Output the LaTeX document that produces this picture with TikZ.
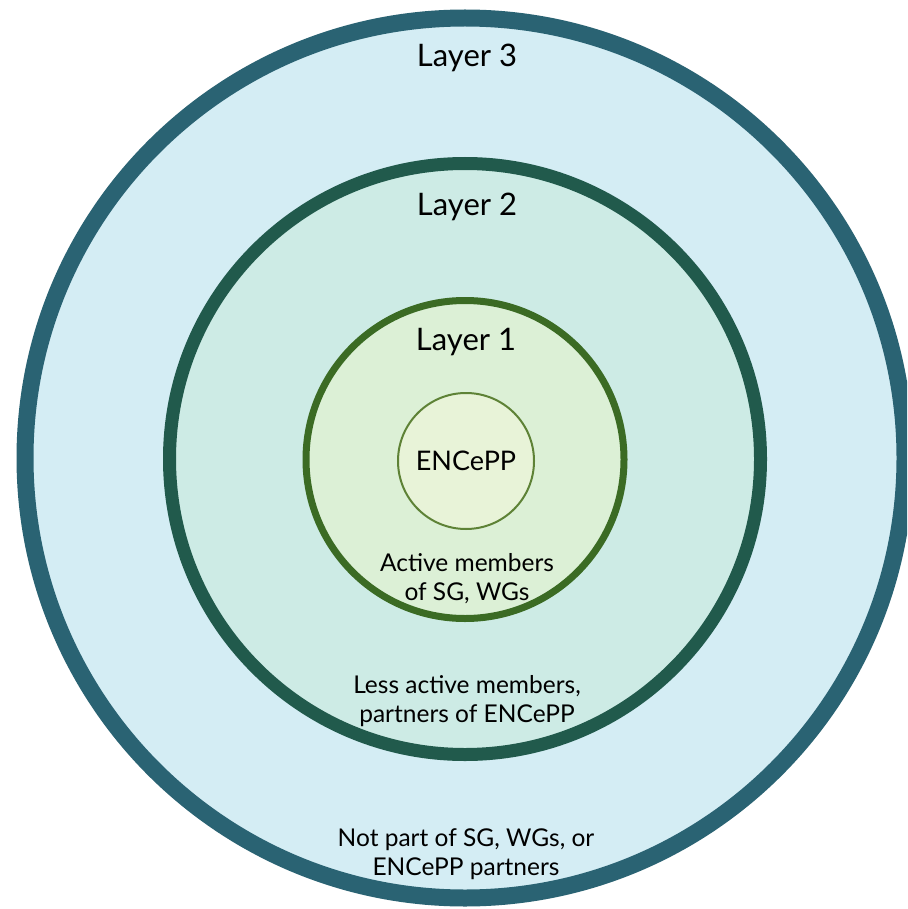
\documentclass[tikz,border=0pt]{standalone}
\usepackage{fontspec}
\setmainfont{Lato}
\definecolor{outerfill}{HTML}{D4EDF4}
\definecolor{outerline}{HTML}{2A6373}
\definecolor{midfill}{HTML}{CDEBE5}
\definecolor{midline}{HTML}{215A4C}
\definecolor{innerfill}{HTML}{DCF0D6}
\definecolor{innerline}{HTML}{3B6B24}
\definecolor{corefill}{HTML}{E8F3D8}
\definecolor{coreline}{HTML}{5E8236}
\tikzset{
  ring/.style={circle, inner sep=0pt, outer sep=0pt},
  bigtxt/.style={font=\fontsize{31}{36}\selectfont, text=black},
  coretxt/.style={font=\fontsize{27}{32}\selectfont, text=black},
  smalltxt/.style={font=\fontsize{24.5}{29}\selectfont, text=black, align=center},
}
\begin{document}
\begin{tikzpicture}[x=1pt,y=-1pt]
\useasboundingbox (0,0) rectangle (907,909);
\clip (0,0) rectangle (907,909);
\fill[white] (0,0) rectangle (907,909);
\node[ring, draw=outerline, fill=outerfill, line width=17pt, minimum size=880pt] (l3) at (465,458) {};
\node[ring, draw=midline, fill=midfill, line width=13pt, minimum size=591pt] (l2) at (465,459) {};
\node[ring, draw=innerline, fill=innerfill, line width=7pt, minimum size=318pt] (l1) at (465,459.5) {};
\node[ring, draw=coreline, fill=corefill, line width=2pt, minimum size=136pt] (core) at (466,461) {};
\node[bigtxt] (t3) at (467,58) {Layer 3};
\node[bigtxt] (t2) at (467,207) {Layer 2};
\node[bigtxt] (t1) at (466,342) {Layer 1};
\node[coretxt] (tc) at (466,461) {ENCePP};
\node[smalltxt] (d1) at (467,579) {Active members\\of SG, WGs};
\node[smalltxt] (d2) at (467,701) {Less active members,\\partners of ENCePP};
\node[smalltxt] (d3) at (466,854) {Not part of SG, WGs, or\\ENCePP partners};
\end{tikzpicture}
\end{document}
